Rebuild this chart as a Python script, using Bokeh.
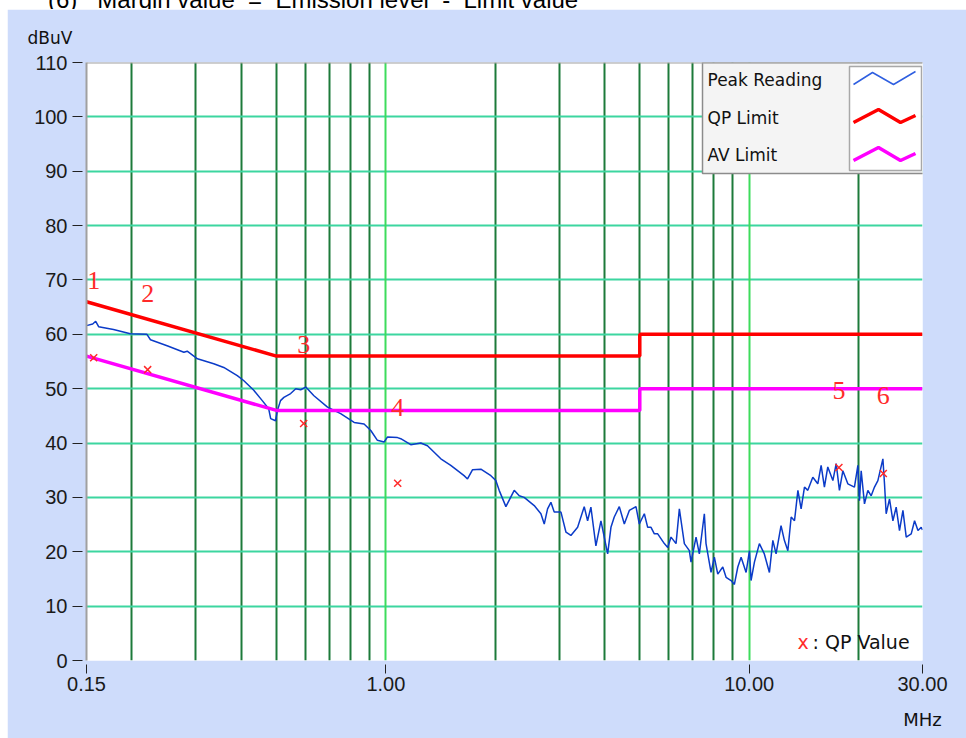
import math
from bokeh.plotting import figure
from bokeh.models import FixedTicker, Grid, Span, Title, PrintfTickFormatter, LogAxis, Div
from bokeh.layouts import column
from bokeh.embed import file_html
from bokeh.resources import INLINE
from bokeh.core.properties import value

# ---------------- data ----------------
peak_f = [0.150, 0.156, 0.159, 0.162, 0.178, 0.198, 0.220, 0.225, 0.250, 0.278,
          0.284, 0.303, 0.336, 0.358, 0.390, 0.406, 0.433, 0.457, 0.476, 0.482,
          0.497, 0.503, 0.513, 0.524, 0.547, 0.565, 0.583, 0.602, 0.634, 0.691,
          0.751, 0.818, 0.871, 0.909, 0.948, 0.989, 1.010, 1.077, 1.099, 1.171,
          1.248, 1.302, 1.417, 1.509, 1.642, 1.678, 1.733, 1.826, 1.946, 2.008,
          2.051, 2.140, 2.256, 2.329, 2.403, 2.561, 2.672, 2.729, 2.787, 2.847,
          2.907, 3.034, 3.132, 3.231, 3.372, 3.516, 3.592, 3.668, 3.786, 3.909,
          4.079, 4.165, 4.253, 4.391, 4.533, 4.679, 4.881, 4.985, 5.146, 5.257,
          5.369, 5.483, 5.602, 5.842, 5.969, 6.095, 6.292, 6.425, 6.632, 6.845,
          6.918, 7.142, 7.293, 7.528, 7.608, 7.854, 8.020, 8.196, 8.460, 8.639,
          8.918, 9.106, 9.306, 9.503, 9.808, 10.02, 10.12, 10.34, 10.67, 11.01,
          11.37, 11.62, 11.86, 12.24, 12.50, 12.78, 13.05, 13.33, 13.62, 13.90,
          14.20, 14.50, 14.97, 15.45, 15.78, 16.11, 16.46, 17.00, 17.36, 17.72,
          18.11, 18.69, 19.49, 19.92, 20.12, 20.34, 20.77, 21.22, 21.67, 22.13,
          22.61, 23.34, 23.58, 23.83, 24.34, 24.87, 25.39, 25.93, 26.50, 27.06,
          27.93, 28.53, 29.15, 29.76, 30.0]
peak_v = [61.6, 61.9, 62.4, 61.4, 60.9, 60.1, 60.0, 59.0, 57.9, 56.7,
          56.9, 55.5, 54.6, 53.9, 52.4, 51.5, 49.7, 47.8, 46.3, 44.5,
          44.1, 46.0, 47.8, 48.4, 49.1, 50.0, 49.8, 50.3, 48.7, 46.6,
          45.4, 43.8, 43.5, 42.3, 40.5, 40.2, 41.1, 41.0, 40.8, 39.7,
          40.0, 39.5, 37.1, 35.9, 34.0, 33.4, 35.1, 35.2, 34.0, 33.1,
          31.3, 28.3, 31.3, 30.3, 30.0, 28.5, 27.0, 25.1, 27.9, 29.1,
          27.3, 27.3, 23.6, 23.0, 24.5, 28.3, 25.7, 28.2, 21.1, 25.7,
          19.6, 24.5, 26.4, 28.3, 25.1, 27.6, 28.3, 25.1, 27.0, 24.5,
          24.5, 23.3, 23.3, 21.5, 20.8, 22.7, 21.5, 27.9, 21.5, 20.2,
          18.1, 22.7, 19.6, 27.0, 21.5, 16.2, 19.0, 15.9, 17.2, 15.3,
          14.7, 14.0, 17.2, 19.0, 16.2, 20.2, 14.7, 18.1, 21.5, 19.6,
          16.2, 22.1, 19.6, 24.8, 22.1, 20.2, 26.4, 25.7, 31.3, 27.9,
          31.9, 31.3, 33.7, 32.5, 35.9, 31.9, 35.6, 33.1, 36.2, 31.3,
          34.9, 32.5, 31.9, 35.9, 29.4, 34.9, 28.8, 31.3, 30.3, 31.9,
          33.1, 37.1, 32.5, 27.0, 29.7, 25.7, 28.2, 23.9, 27.6, 22.7,
          23.3, 25.7, 23.9, 24.5, 24.0]

limit_f = [0.15, 0.5, 5.0, 5.0, 30.0]
qp_limit = [66, 56, 56, 60, 60]
av_limit = [56, 46, 46, 50, 50]

qp_f = [0.157, 0.221, 0.594, 1.078, 17.66, 23.4]
qp_v = [55.7, 53.5, 43.6, 32.6, 35.5, 34.4]
qp_no = ["1", "2", "3", "4", "5", "6"]
qp_no_y = [69.9, 67.5, 58.1, 46.5, 49.7, 48.7]

y_ticks = list(range(0, 111, 10))
x_ticks = [0.15, 1, 10, 30]
grid_dark = [0.2, 0.3, 0.4, 0.5, 0.6, 0.7, 0.8, 0.9, 2, 3, 4, 5, 6, 7, 8, 9, 20]
grid_bright = [1, 10]
legend_names = ["Peak Reading", "QP Limit", "AV Limit"]
heading = "(6)&nbsp;&nbsp;&nbsp;Margin value&nbsp;&nbsp;=&nbsp;&nbsp;Emission level&nbsp;&nbsp;-&nbsp;&nbsp;Limit value"

# ---------------- styles ----------------
BG = "#cedcfb"
C_PEAK = "#0b3bc8"
C_QP = "#ff0000"
C_AV = "#ff00ff"
C_MARK = "#ff2a2a"
C_HGRID = "#3cd6a0"
C_VDARK = "#1d7a3a"
C_VBRIGHT = "#3ddc5c"
FONT = "DejaVu Sans"
TICKFONT = "Liberation Sans"

# page-pixel -> data helpers (decorations only)
PX_DEC = 836 / math.log10(200)
def X(px):
    return 0.15 * 10 ** ((px - 86) / PX_DEC)
def Y(py):
    return 110 - (py - 62) * 110 / 598

p = figure(width=959, height=729, x_axis_type="log", x_range=(0.15, 30), y_range=(0, 110),
           output_backend="svg", toolbar_location=None, title=None, margin=(0, 0, 0, 7),
           min_border_left=79, min_border_right=44, min_border_top=53, min_border_bottom=78,
           border_fill_color=BG, background_fill_color="white", outline_line_color=None)

# axes
p.xaxis.ticker = FixedTicker(ticks=x_ticks)
p.xaxis.formatter = PrintfTickFormatter(format="%.2f")
p.xaxis.minor_tick_line_color = None
p.xaxis.major_tick_in = -4
p.xaxis.major_tick_out = 13
p.xaxis.major_tick_line_color = "#222222"
p.xaxis.axis_line_color = None
p.xaxis.major_label_standoff = 3
p.xaxis.major_label_text_font = TICKFONT
p.xaxis.major_label_text_font_size = "20px"
p.xaxis.major_label_text_color = "#1a1a1a"

p.yaxis.ticker = FixedTicker(ticks=y_ticks)
p.yaxis.minor_tick_line_color = None
p.yaxis.major_tick_in = -4
p.yaxis.major_tick_out = 14
p.yaxis.major_tick_line_color = "#222222"
p.yaxis.axis_line_color = "#a0a0a0"
p.yaxis.axis_line_width = 2
p.yaxis.major_label_standoff = 5
p.yaxis.major_label_text_font = TICKFONT
p.yaxis.major_label_text_font_size = "20px"
p.yaxis.major_label_text_color = "#1a1a1a"

# unit captions
p.add_layout(Title(text="dBuV", align="left", offset=-59, standoff=30, vertical_align="bottom",
                   text_font=FONT, text_font_size="17px", text_font_style="normal",
                   text_color="#111111"), "above")
unit_axis = LogAxis(ticker=FixedTicker(ticks=[30]), major_label_overrides={30: "MHz"},
                    major_tick_in=0, major_tick_out=0, axis_line_color=None,
                    minor_tick_line_color=None, major_label_standoff=15,
                    major_label_text_font=FONT, major_label_text_font_size="18px",
                    major_label_text_color="#111111")
p.add_layout(unit_axis, "below")

# grids
p.xgrid.ticker = FixedTicker(ticks=grid_dark)
p.xgrid.grid_line_color = C_VDARK
p.xgrid.grid_line_width = 2
p.add_layout(Grid(dimension=0, ticker=FixedTicker(ticks=grid_bright),
                  grid_line_color=C_VBRIGHT, grid_line_width=2))
p.ygrid.ticker = FixedTicker(ticks=y_ticks[1:-1])
p.ygrid.grid_line_color = C_HGRID
p.ygrid.grid_line_width = 2

p.add_layout(Span(location=110, dimension="width", line_color="#a0a0a0", line_width=2))

# data
p.line(peak_f, peak_v, line_color=C_PEAK, line_width=1.5)
p.line(limit_f, qp_limit, line_color=C_QP, line_width=3.5)
p.line(limit_f, av_limit, line_color=C_AV, line_width=3.5)
p.scatter(qp_f, qp_v, marker="x", size=10, line_color=C_MARK, line_width=1.5)
p.text(qp_f, qp_no_y, text=qp_no, text_font=value("Liberation Serif"), text_font_size="26px",
       text_color=C_MARK, text_align="center", text_baseline="middle")

# legend (drawn as glyphs so the text sits on top of the box)
p.quad(left=[X(702)], right=[X(924)], top=[Y(62)], bottom=[Y(173)],
       fill_color="#f4f4f4", line_color="#8c8c8c", line_width=1.5)
p.quad(left=[X(849)], right=[X(921)], top=[Y(66)], bottom=[Y(170)],
       fill_color="white", line_color="#a8a8a8", line_width=1.5)
p.text([X(707)] * 3, [Y(79), Y(117), Y(154)], text=legend_names, text_font=value(FONT),
       text_font_size="17px", text_color="#111111", text_align="left", text_baseline="middle")
p.line([X(853), X(872), X(893), X(915)], [Y(84), Y(72), Y(84), Y(71)], line_color="#2f5fe0", line_width=1.5)
p.line([X(853), X(878), X(900), X(915)], [Y(122), Y(109), Y(122), Y(115)], line_color=C_QP, line_width=3.5)
p.line([X(853), X(878), X(900), X(915)], [Y(160), Y(147), Y(160), Y(153)], line_color=C_AV, line_width=3.5)

# QP marker note
p.text([X(797)], [Y(641)], text=["x"], text_font=value(FONT), text_font_size="19px",
       text_color=C_MARK, text_align="left", text_baseline="middle")
p.text([X(812)], [Y(641)], text=[": QP Value"], text_font=value(FONT), text_font_size="19px",
       text_color="#111111", text_align="left", text_baseline="middle")

# heading line that is cut off by the top edge of the page
head_html = ('<div style="position:relative;top:-12px;left:48px;font-family:\'Liberation Sans\';'
             'font-size:24px;line-height:24px;white-space:nowrap;color:#000;">' + heading + '</div>')
head = Div(text=head_html, width=966, height=9, margin=0,
           styles={"overflow": "hidden", "background-color": "white"})

layout = column(head, p, spacing=0)
open("out.html", "w").write(file_html(layout, INLINE))
